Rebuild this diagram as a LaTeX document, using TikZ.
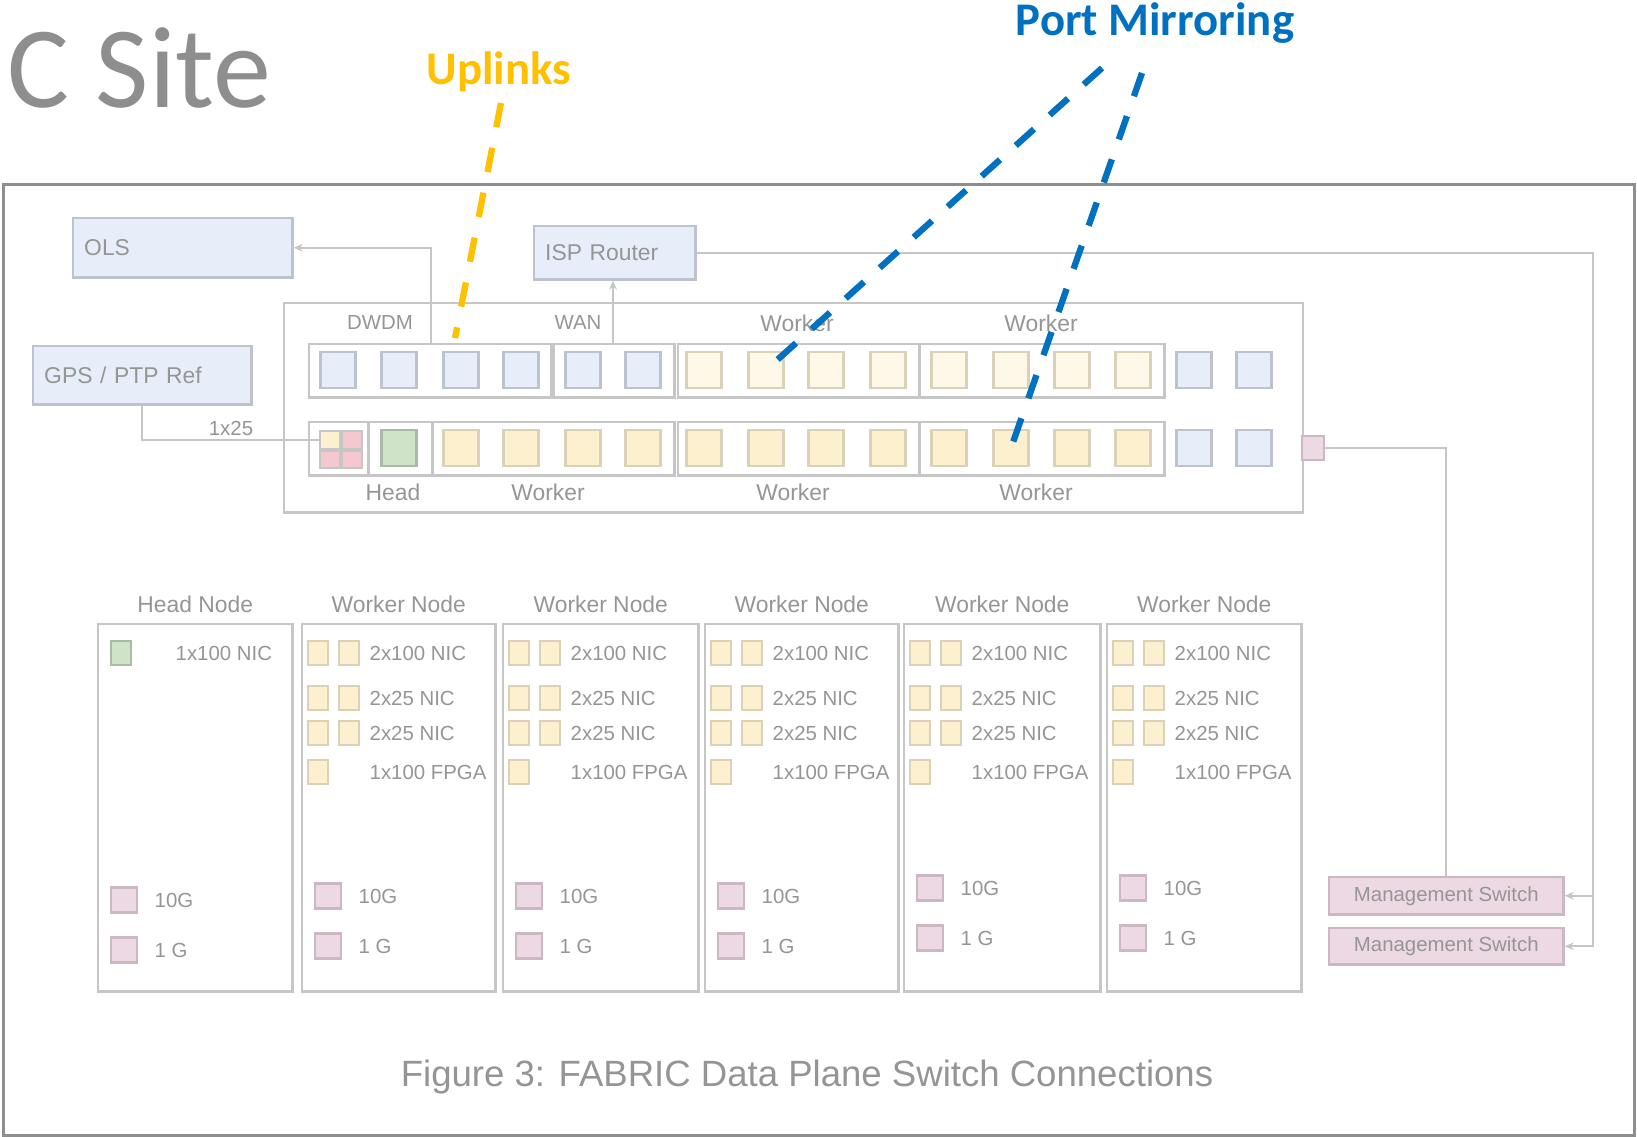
\documentclass[tikz,border=0pt]{standalone}
\usepackage{fontspec}
\setmainfont{Liberation Sans}
\newfontfamily\calibri{Carlito}
\usepackage{tikz}
\usetikzlibrary{positioning, arrows.meta}
\definecolor{frameGray}{HTML}{8E8E8E}
\definecolor{lineGray}{HTML}{C6C6C6}
\definecolor{txtGray}{HTML}{959595}
\definecolor{blueFill}{HTML}{E7EEF9}
\definecolor{blueEdge}{HTML}{BCC3CF}
\definecolor{ylwFill}{HTML}{FDF0CF}
\definecolor{ylwPale}{HTML}{FEF8E8}
\definecolor{ylwEdge}{HTML}{DAD1B9}
\definecolor{grnFill}{HTML}{CFE3C8}
\definecolor{grnEdge}{HTML}{AABBA5}
\definecolor{pnkFill}{HTML}{EDD9E3}
\definecolor{pnkEdge}{HTML}{CBB8C2}
\definecolor{redFill}{HTML}{F5C8D0}
\definecolor{uplinkCol}{HTML}{FFC000}
\definecolor{mirrorCol}{HTML}{0070C0}
\tikzset{
wire/.style={draw=lineGray, line width=0.6pt}, tip/.style={-{Stealth[length=2.6pt, width=2.2pt]}},
lbl/.style={text=txtGray, inner sep=0, font=\fontsize{6.5}{7.5}\selectfont}, small/.style={lbl, font=\fontsize{5.8}{7}\selectfont},
device/.style={draw=blueEdge, fill=blueFill, line width=0.7pt, text=txtGray, font=\fontsize{6.5}{7.5}\selectfont, align=left, inner xsep=0.11cm, inner ysep=0, anchor=north west},
grp/.style={draw=lineGray, line width=0.7pt, inner sep=0, minimum height=0.53cm, anchor=north west},
portbase/.style={line width=0.7pt, inner sep=0, minimum width=0.35cm, minimum height=0.36cm},
bport/.style={portbase, fill=blueFill, draw=blueEdge}, yport/.style={portbase, fill=ylwFill, draw=ylwEdge},
ypale/.style={portbase, fill=ylwPale, draw=ylwEdge}, gport/.style={portbase, fill=grnFill, draw=grnEdge},
quarter/.style={line width=0.6pt, draw=lineGray, inner sep=0, minimum width=0.2cm, minimum height=0.175cm},
nic/.style={line width=0.6pt, inner sep=0, minimum width=0.2cm, minimum height=0.24cm, fill=ylwFill, draw=ylwEdge},
mgmt/.style={line width=0.6pt, inner sep=0, minimum width=0.26cm, minimum height=0.25cm, fill=pnkFill, draw=pnkEdge},
server/.style={draw=lineGray, line width=0.7pt, inner sep=0, minimum height=3.67cm, anchor=north west},
mswitch/.style={draw=pnkEdge, fill=pnkFill, line width=0.7pt, text=txtGray, font=\fontsize{5.8}{7}\selectfont, minimum width=2.34cm, minimum height=0.37cm, inner sep=0, anchor=north west},
callout/.style={line width=1.8pt, dash pattern=on 7pt off 6pt},
headline/.style={anchor=base, inner sep=0, font=\calibri\bfseries\fontsize{13.3}{16}\selectfont}}

\begin{document}
\begin{tikzpicture}[x=0.01cm, y=-0.01cm]
\useasboundingbox (0,0) rectangle (1637,1136);
\node [anchor=base west, inner sep=0, text=frameGray, font=\calibri\fontsize{33}{40}\selectfont] (title) at (7,107) {C Site};
\node [draw=frameGray, line width=0.9pt, inner sep=0, minimum width=16.30cm, minimum height=9.50cm, anchor=north west] (site) at (2,183) {};

\node [device, text width=1.97cm, minimum height=0.59cm] (ols) at (72,217) {OLS};
\node [device, text width=1.39cm, minimum height=0.53cm] (isp) at (533,225) {ISP Router};
\node [device, text width=1.96cm, minimum height=0.58cm] (gps) at (32,345) {GPS / PTP Ref};
\node [draw=lineGray, line width=0.7pt, inner sep=0, minimum width=10.18cm, minimum height=2.09cm, anchor=north west] (sw) at (283,302) {};

\foreach \ga/\gb [count=\g, evaluate={\gw=(\gb-\ga)/100;}] in {308/550, 553/673, 677/918, 918/1163}
  \node [grp, minimum width=\gw cm] (ug-\g) at (\ga,343) {};
\foreach \ga/\gb [count=\g, evaluate={\gw=(\gb-\ga)/100;}] in {308/367, 367/431, 431/673, 677/918, 918/1163}
  \node [grp, minimum width=\gw cm] (lg-\g) at (\ga,421) {};

\foreach \px/\kind [count=\i] in {338/bport, 399/bport, 461/bport, 521/bport, 583/bport, 643/bport, 704/ypale, 766/ypale, 826/ypale, 888/ypale, 949/ypale, 1011/ypale, 1072/ypale, 1133/ypale, 1194/bport, 1254/bport}
  \node [\kind] (up-\i) at (\px,370) {};
\foreach \px/\kind [count=\i from 2] in {399/gport, 461/yport, 521/yport, 583/yport, 643/yport, 704/yport, 766/yport, 826/yport, 888/yport, 949/yport, 1011/yport, 1072/yport, 1133/yport, 1194/bport, 1254/bport}
  \node [\kind] (lo-\i) at (\px,448) {};
\node [quarter, fill=ylwFill] (q-1) at (330,440) {};
\node [quarter, fill=redFill, right=0pt of q-1] (q-2) {};
\node [quarter, fill=redFill, below=0pt of q-1] (q-3) {};
\node [quarter, fill=redFill, right=0pt of q-3] (q-4) {};
\node [mgmt, minimum width=0.22cm, minimum height=0.24cm] (mport) at (1313,448) {};

\node [small] (l-dwdm) at (380,322) {DWDM};
\node [small] (l-wan) at (578,322) {WAN};
\foreach \lx/\ly/\ltxt [count=\k] in {797/323/Worker, 1041/323/Worker, 393/492/Head, 548/492/Worker, 793/492/Worker, 1036/492/Worker}
  \node [lbl] (l-\k) at (\lx,\ly) {\ltxt};

\foreach \lft/\rgt/\py/\kind [count=\s, evaluate={\sw=(\rgt-\lft)/100;}] in {97/291/900/Head, 301/494/896/Worker, 502/697/896/Worker, 704/897/896/Worker, 903/1099/888/Worker, 1106/1300/888/Worker}{
  \node [server, minimum width=\sw cm] (srv-\s) at (\lft,623) {};
  \node [lbl, above=0.1cm of srv-\s] (srv-\s-name) {\kind\ Node};
  \ifnum\s=1
    \node [nic, fill=grnFill, draw=grnEdge] (nic-\s-1) at (\lft+24,653) {};
    \node [small, anchor=west] (nic-\s-1-txt) at (\lft+78,653) {1x100 NIC};
  \else
    \foreach \ry/\rtxt/\rn [count=\rr] in {653/2x100 NIC/2, 698/2x25 NIC/2, 733/2x25 NIC/2, 772/1x100 FPGA/1}{
      \node [nic] (nic-\s-\rr) at (\lft+17,\ry) {};
      \ifnum\rn=2
        \node [nic] (nic-\s-\rr-b) at (\lft+48,\ry) {};
      \fi
      \node [small, anchor=west] (nic-\s-\rr-txt) at (\lft+68,\ry) {\rtxt};
    }
  \fi
  \node [mgmt] (g10-\s) at (\lft+27,\py) {};
  \node [small, anchor=west] (g10-\s-txt) at (\lft+57,\py) {10G};
  \node [mgmt] (g1-\s) at (\lft+27,\py+50) {};
  \node [small, anchor=west] (g1-\s-txt) at (\lft+57,\py+50) {1 G};
}

\node [mswitch] (ms-1) at (1328,876) {Management Switch};
\node [mswitch, minimum height=0.36cm] (ms-2) at (1328,927) {Management Switch};

\coordinate (dwdm-up) at (431,343);
\coordinate (wan-up) at (613,343);
\coordinate (trunk) at (1593,0);
\draw [wire, tip] (dwdm-up) |- (ols.east);
\draw [wire, tip] (wan-up) -- (wan-up |- isp.south);
\draw [wire] (gps.south) |- (q-1.west);
\node [small] (l-gps) at (231,428) {1x25};
\draw [wire, tip] (isp.east) -| (trunk |- ms-1.east) -- (ms-1.east);
\draw [wire, tip] (trunk |- ms-1.east) |- (ms-2.east);
\draw [wire] (mport.east) -| (ms-1.north);

\node [lbl, font=\fontsize{10.4}{12}\selectfont] (caption) at (807,1077) {Figure 3: FABRIC Data Plane Switch Connections};

\node [headline, text=uplinkCol] (uplinks) at (499,84) {Uplinks};
\node [headline, text=mirrorCol] (mirroring) at (1155,35) {Port Mirroring};
\coordinate (upl-a) at (501,103);
\coordinate (upl-b) at (455,338);
\coordinate (mir-a) at (1102,68);
\coordinate (mir-b) at (1142,73);
\draw [callout, uplinkCol] (upl-a) -- (upl-b);
\draw [callout, mirrorCol] (mir-a) -- (up-8.center);
\draw [callout, mirrorCol] (mir-b) -- (lo-12.center);
\end{tikzpicture}
\end{document}
